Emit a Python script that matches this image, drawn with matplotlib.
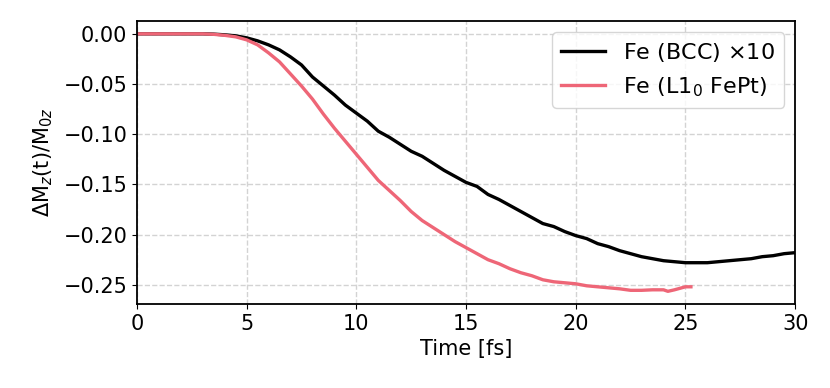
import matplotlib

matplotlib.use("Agg")
import matplotlib.pyplot as plt

# Fe (BCC), scaled x10
t_bcc = [0, 1, 2, 3, 3.5, 4, 4.5, 5, 5.5, 6, 6.5, 7, 7.5, 8, 8.5, 9, 9.5, 10,
         10.5, 11, 11.5, 12, 12.5, 13, 13.5, 14, 14.5, 15, 15.5, 16, 16.5, 17,
         17.5, 18, 18.5, 19, 19.5, 20, 20.5, 21, 21.5, 22, 22.5, 23, 23.5, 24,
         24.5, 25, 25.5, 26, 26.5, 27, 27.5, 28, 28.5, 29, 29.5, 30]
dm_bcc = [0, 0, 0, 0, -0.0003, -0.001, -0.002, -0.004, -0.007, -0.011, -0.016,
          -0.023, -0.031, -0.043, -0.052, -0.061, -0.071, -0.079, -0.087,
          -0.097, -0.103, -0.110, -0.117, -0.122, -0.129, -0.136, -0.142,
          -0.148, -0.152, -0.160, -0.165, -0.171, -0.177, -0.183, -0.189,
          -0.192, -0.197, -0.201, -0.204, -0.209, -0.212, -0.216, -0.219,
          -0.222, -0.224, -0.226, -0.227, -0.228, -0.228, -0.228, -0.227,
          -0.226, -0.225, -0.224, -0.222, -0.221, -0.219, -0.218]

# Fe in L1_0 FePt
t_fept = [0, 1, 2, 3, 3.5, 4, 4.5, 5, 5.5, 6, 6.5, 7, 7.5, 8, 8.5, 9, 9.5, 10,
          10.5, 11, 11.5, 12, 12.5, 13, 13.5, 14, 14.5, 15, 15.5, 16, 16.5, 17,
          17.5, 18, 18.5, 19, 19.5, 20, 20.5, 21, 21.5, 22, 22.5, 23, 23.5, 24,
          24.2, 24.5, 25, 25.25]
dm_fept = [0, 0, 0, 0, -0.0005, -0.0015, -0.003, -0.006, -0.011, -0.019,
           -0.028, -0.040, -0.052, -0.065, -0.080, -0.094, -0.107, -0.120,
           -0.133, -0.146, -0.156, -0.166, -0.177, -0.186, -0.193, -0.200,
           -0.207, -0.213, -0.219, -0.225, -0.229, -0.234, -0.238, -0.241,
           -0.245, -0.247, -0.248, -0.249, -0.251, -0.252, -0.253, -0.254,
           -0.2555, -0.2555, -0.255, -0.255, -0.2565, -0.255, -0.252, -0.252]

fig, ax = plt.subplots(figsize=(8.3, 3.88), dpi=100)
fig.subplots_adjust(left=0.165, right=0.958, top=0.946, bottom=0.216)

ax.plot(t_bcc, dm_bcc, color="black", lw=2.4, label=r"Fe (BCC) $\times$10")
ax.plot(t_fept, dm_fept, color="#EE6677", lw=2.4, label=r"Fe (L1$_0$ FePt)")

ax.set_xlim(0, 30)
ax.grid(True, linestyle="--", color="#d3d3d3", lw=1.0)
ax.set_axisbelow(True)
ax.tick_params(labelsize=15)
ax.set_xlabel("Time [fs]", fontsize=15)
ax.set_ylabel(r"$\Delta$M$_z$(t)/M$_{0z}$", fontsize=15, labelpad=6)
ax.legend(loc="upper right", fontsize=16)
for spine in ax.spines.values():
    spine.set_linewidth(1.3)

fig.savefig("out.png", dpi=100)
